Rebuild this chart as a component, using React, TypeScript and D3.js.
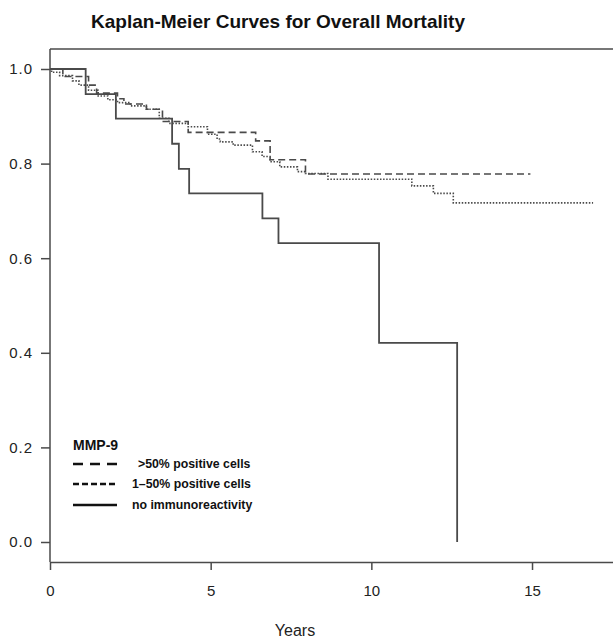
import React, { useEffect, useRef } from 'react';
import * as d3 from 'd3';

// survival steps: [years, survival]
const highTimes = [0, 0.4, 1.2, 1.45, 2.1, 2.3, 3.0, 3.5, 4.3, 6.4, 6.85, 7.95, 14.95];
const highSurv = [1.0, 0.984, 0.966, 0.949, 0.937, 0.926, 0.915, 0.889, 0.866, 0.848, 0.808, 0.778, 0.778];

const midTimes = [0, 0.05, 0.3, 0.7, 0.9, 1.2, 1.5, 1.8, 2.1, 2.5, 3.0, 3.4, 3.7, 4.3, 4.9, 5.2, 5.3, 5.7, 6.3, 6.6, 6.85, 7.15, 7.7, 7.95, 8.65, 11.26, 11.93, 12.55, 16.9];
const midSurv = [1.0, 0.993, 0.986, 0.975, 0.966, 0.955, 0.943, 0.935, 0.929, 0.922, 0.915, 0.896, 0.885, 0.878, 0.862, 0.852, 0.846, 0.839, 0.825, 0.815, 0.804, 0.793, 0.783, 0.779, 0.767, 0.753, 0.737, 0.717, 0.717];

const noneTimes = [0, 1.11, 2.05, 3.8, 4.01, 4.33, 6.61, 7.11, 10.24, 12.67];
const noneSurv = [1.0, 0.947, 0.895, 0.842, 0.789, 0.737, 0.684, 0.632, 0.421, 0.0];

const xTicks = [0, 5, 10, 15];
const yTicks = [0, 0.2, 0.4, 0.6, 0.8, 1.0];

const legendTitle = 'MMP-9';
const legendLabels = ['>50% positive cells', '1\u201350% positive cells', 'no immunoreactivity'];

const App = () => {
  const svgRef = useRef<SVGSVGElement>(null);

  useEffect(() => {
    const width = 613;
    const height = 638;
    const left = 50;
    const frameTop = 49;
    const axisY = 562;

    const svg = d3.select(svgRef.current);
    svg.selectAll('*').remove();
    svg.attr('width', width).attr('height', height);

    const x = d3.scaleLinear().domain([0, 17.52]).range([left, width]);
    const y = d3.scaleLinear().domain([0, 1]).range([542, 69]);

    const ink = '#4a4a4a';
    const font = 'Arial, "Liberation Sans", sans-serif';

    // title
    svg.append('text')
      .attr('x', 278)
      .attr('y', 28)
      .attr('text-anchor', 'middle')
      .attr('textLength', 374)
      .attr('lengthAdjust', 'spacingAndGlyphs')
      .style('font-family', font)
      .style('font-size', '19px')
      .style('font-weight', 'bold')
      .style('fill', '#111')
      .text('Kaplan-Meier Curves for Overall Mortality');

    // frame: top line
    svg.append('line')
      .attr('x1', left).attr('x2', width)
      .attr('y1', frameTop).attr('y2', frameTop)
      .attr('stroke', ink).attr('stroke-width', 1.5);

    // x axis
    const xAxis = svg.append('g')
      .attr('transform', `translate(0,${axisY})`)
      .call(d3.axisBottom(x).tickValues(xTicks).tickSize(8).tickSizeOuter(0).tickPadding(15).tickFormat(d3.format('d')));
    xAxis.select('.domain').attr('stroke', ink).attr('stroke-width', 1.5);
    xAxis.selectAll('.tick line').attr('stroke', ink).attr('stroke-width', 1.5);
    xAxis.selectAll('text')
      .style('font-family', font)
      .style('font-size', '15px')
      .style('fill', '#222');

    // y axis
    const yAxis = svg.append('g')
      .attr('transform', `translate(${left},0)`)
      .call(d3.axisLeft(y).tickValues(yTicks).tickSize(9).tickSizeOuter(0).tickPadding(8).tickFormat(d3.format('.1f')));
    yAxis.select('.domain').remove();
    yAxis.append('line')
      .attr('x1', 0).attr('x2', 0)
      .attr('y1', frameTop).attr('y2', axisY)
      .attr('stroke', ink).attr('stroke-width', 1.5);
    yAxis.selectAll('.tick line').attr('stroke', ink).attr('stroke-width', 1.5);
    yAxis.selectAll('text')
      .style('font-family', font)
      .style('font-size', '15px')
      .style('letter-spacing', '1px')
      .style('fill', '#222');

    // axis title
    svg.append('text')
      .attr('x', 295)
      .attr('y', 636)
      .attr('text-anchor', 'middle')
      .style('font-family', font)
      .style('font-size', '16px')
      .style('fill', '#222')
      .text('Years');

    // curves
    const step = d3.line<[number, number]>()
      .x(d => x(d[0]))
      .y(d => y(d[1]))
      .curve(d3.curveStepAfter);

    const curves = [
      { t: midTimes, s: midSurv, dash: '1.5,1.6', w: 1.6 },
      { t: highTimes, s: highSurv, dash: '7,4', w: 1.6 },
      { t: noneTimes, s: noneSurv, dash: null, w: 1.8 },
    ];

    curves.forEach(c => {
      const pts = c.t.map((t, i) => [t, c.s[i]] as [number, number]);
      svg.append('path')
        .attr('d', step(pts))
        .attr('fill', 'none')
        .attr('stroke', ink)
        .attr('stroke-width', c.w)
        .attr('stroke-dasharray', c.dash);
    });

    // legend
    const lg = svg.append('g');
    lg.append('text')
      .attr('x', 73).attr('y', 450)
      .style('font-family', font)
      .style('font-size', '14px')
      .style('font-weight', 'bold')
      .style('fill', '#111')
      .text(legendTitle);

    const legendDash = ['10,7', '6,3', null];
    const legendRows = [464, 484, 505];
    const legendTextX = [138, 132, 132];
    legendLabels.forEach((label, i) => {
      lg.append('line')
        .attr('x1', 73).attr('x2', 117)
        .attr('y1', legendRows[i]).attr('y2', legendRows[i])
        .attr('stroke', '#111')
        .attr('stroke-width', 2.5)
        .attr('stroke-dasharray', legendDash[i]);
      lg.append('text')
        .attr('x', legendTextX[i]).attr('y', legendRows[i] + 4)
        .style('font-family', font)
        .style('font-size', '12.3px')
        .style('font-weight', 'bold')
        .style('fill', '#111')
        .text(label);
    });
  }, []);

  return (
    <div style={{ position: 'absolute', left: 0, top: 0 }}>
      <svg ref={svgRef} style={{ display: 'block', background: '#fff' }}></svg>
    </div>
  );
};

export default App;
